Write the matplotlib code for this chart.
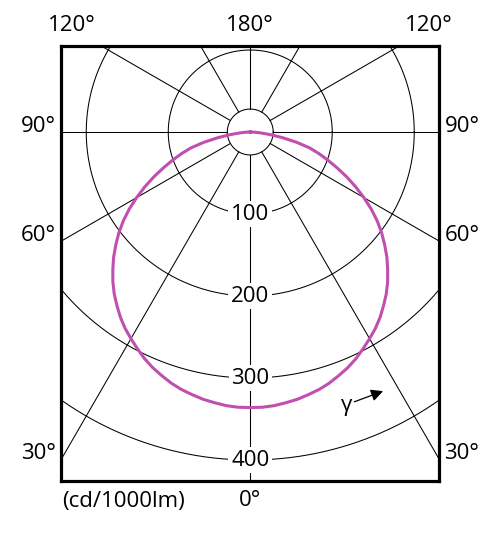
import numpy as np
import matplotlib.pyplot as plt

plt.rcParams['font.family'] = ['Open Sans', 'DejaVu Sans']

# luminous intensity (cd/1000lm) against gamma angle, same on both sides
gamma_deg = [0, 2.5, 5, 7.5, 10, 12.5, 15, 17.5, 20, 22.5, 25, 27.5, 30, 32.5, 35, 37.5,
             40, 42.5, 45, 47.5, 50, 52.5, 55, 57.5, 60, 62.5, 65, 67.5, 70, 72.5, 75,
             77.5, 80, 82.5, 85, 87.5, 90]
intensity = [336, 336, 335, 333, 331, 328, 325, 321, 316, 311, 305, 298, 291, 284, 276, 267,
             258, 248, 237, 226, 214, 202, 189, 175, 160, 145, 130, 115, 101, 88, 75,
             58, 40, 25, 13, 5, 0]

ring_values = [100, 200, 300, 400]
ring_labels = ['100', '200', '300', '400']
spoke_angles = [0, 30, 60, 90, 120, 150, 180]
side_angles = [30, 60, 90]
top_angles = [120, 180]

curve_color = '#c04fb0'
hub_r = 28
fs = 16

fig = plt.figure(figsize=(4.96, 5.53), dpi=100)
W, H = 496, 553
# frame in pixels, polar centre in pixels, px per cd/klm
fl, fr, ft, fb = 61, 439.5, 45.5, 481
cx, cy = 250.25, 132
s = 0.82
ax = fig.add_axes([fl / W, 1 - fb / H, (fr - fl) / W, (fb - ft) / H])
xmin, xmax = (fl - cx) / s, (fr - cx) / s
ymin, ymax = -(fb - cy) / s, (cy - ft) / s
ax.set_xlim(xmin, xmax)
ax.set_ylim(ymin, ymax)
ax.set_xticks([])
ax.set_yticks([])
for sp in ax.spines.values():
    sp.set_linewidth(2.3)
    sp.set_zorder(5)

# rings
t = np.linspace(0, 2 * np.pi, 721)
for r in [hub_r] + ring_values:
    ax.plot(r * np.cos(t), r * np.sin(t), color='black', lw=0.75, zorder=1)

# spokes
for a in spoke_angles:
    ar = np.radians(a)
    for sgn in (-1, 1):
        ax.plot([sgn * hub_r * np.sin(ar), sgn * 900 * np.sin(ar)],
                [-hub_r * np.cos(ar), -900 * np.cos(ar)],
                color='black', lw=0.75, zorder=1)

# ring labels on the 0 deg spoke
for r, lab in zip(ring_values, ring_labels):
    ax.text(0, -r, lab, ha='center', va='center', fontsize=fs, zorder=3,
            bbox=dict(boxstyle='square,pad=0.12', fc='white', ec='none'))

# intensity curve, mirrored for the left half
g = np.radians(np.array(gamma_deg))
I = np.array(intensity)
gg = np.concatenate([-g[::-1], g[1:]])
II = np.concatenate([I[::-1], I[1:]])
ax.plot(II * np.sin(gg), -II * np.cos(gg), color=curve_color, lw=2.2, zorder=4,
        solid_joinstyle='round')

# angle labels round the frame
for a in side_angles:
    yy = -abs(xmin) / np.tan(np.radians(a)) if a != 90 else 0
    ax.annotate(f'{a}°', xy=(xmin, yy), xytext=(-5, 6), textcoords='offset pixels',
                ha='right', va='center', fontsize=fs, annotation_clip=False)
    ax.annotate(f'{a}°', xy=(xmax, yy), xytext=(5, 6), textcoords='offset pixels',
                ha='left', va='center', fontsize=fs, annotation_clip=False)
for a in top_angles:
    ar = np.radians(a)
    if a == 180:
        ax.annotate(f'{a}°', xy=(0, ymax), xytext=(0, 20), textcoords='offset pixels',
                    ha='center', va='center', fontsize=fs, annotation_clip=False)
    else:
        xx = abs(ymax * np.tan(ar))
        ax.annotate(f'{a}°', xy=(-xx, ymax), xytext=(-5, 20), textcoords='offset pixels',
                    ha='right', va='center', fontsize=fs, annotation_clip=False)
        ax.annotate(f'{a}°', xy=(xx, ymax), xytext=(5, 20), textcoords='offset pixels',
                    ha='left', va='center', fontsize=fs, annotation_clip=False)

ax.annotate('0°', xy=(0, ymin), xytext=(0, -20), textcoords='offset pixels',
            ha='center', va='center', fontsize=fs, annotation_clip=False)
ax.annotate('(cd/1000lm)', xy=(xmin, ymin), xytext=(1, -20), textcoords='offset pixels',
            ha='left', va='center', fontsize=fs, annotation_clip=False)

# gamma direction marker
ax.text(118, -333, 'γ', ha='center', va='center', fontsize=fs, zorder=3)
ax.annotate('', xy=(162, -316), xytext=(127, -329),
            arrowprops=dict(arrowstyle='-|>', color='black', lw=0.9,
                            mutation_scale=18, shrinkA=0, shrinkB=0))

fig.savefig('out.png', dpi=100)
